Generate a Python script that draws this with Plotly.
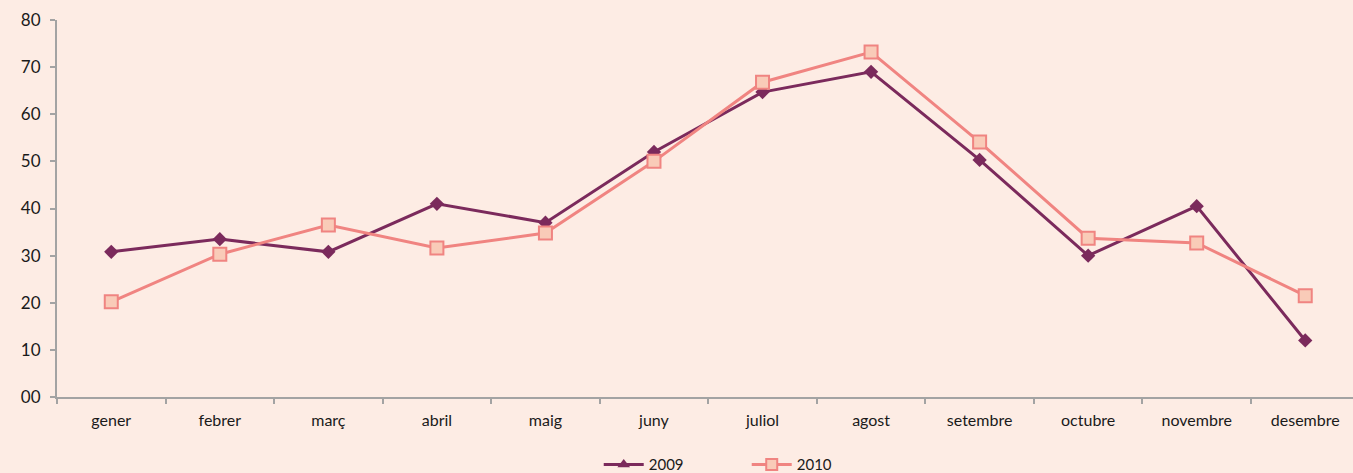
import plotly.graph_objects as go

months = ["gener", "febrer", "març", "abril", "maig", "juny", "juliol",
          "agost", "setembre", "octubre", "novembre", "desembre"]
values_2009 = [30.8, 33.5, 30.8, 41.0, 37.0, 52.0, 64.7, 69.0, 50.3, 30.0, 40.5, 12.0]
values_2010 = [20.2, 30.3, 36.5, 31.6, 34.8, 50.0, 66.8, 73.2, 54.1, 33.7, 32.7, 21.5]
y_ticks = [0, 10, 20, 30, 40, 50, 60, 70, 80]
y_tick_labels = ["00", "10", "20", "30", "40", "50", "60", "70", "80"]

C2009 = "#7B2A5C"
C2010 = "#F08481"
FILL2010 = "#F9CBB8"
BG = "#FDECE4"
FONT = "Lato"

fig = go.Figure()

fig.add_trace(go.Scatter(
    x=months, y=values_2009, mode="lines+markers", name="2009",
    line=dict(color=C2009, width=3),
    marker=dict(symbol="diamond", size=11, color=C2009),
    showlegend=False,
))
fig.add_trace(go.Scatter(
    x=months, y=values_2010, mode="lines+markers", name="2010",
    line=dict(color=C2010, width=3),
    marker=dict(symbol="square", size=13, color=FILL2010,
                line=dict(color=C2010, width=2)),
    showlegend=False,
))

# legend keys
fig.add_trace(go.Scatter(
    x=[None], y=[None], mode="lines+markers", name="2009",
    line=dict(color=C2009, width=3),
    marker=dict(symbol="triangle-up", size=11, color=C2009),
))
fig.add_trace(go.Scatter(
    x=[None], y=[None], mode="lines+markers", name="2010",
    line=dict(color=C2010, width=3),
    marker=dict(symbol="square", size=11, color=FILL2010,
                line=dict(color=C2010, width=2)),
))

fig.update_layout(
    width=1353, height=473,
    margin=dict(l=57, r=0, t=20, b=76, autoexpand=False),
    paper_bgcolor=BG, plot_bgcolor=BG,
    font=dict(family=FONT, size=15, color="#1a1a1a"),
    showlegend=True,
    legend=dict(orientation="h", x=0.418, xanchor="left", y=-0.18,
                yanchor="middle", bgcolor="rgba(0,0,0,0)",
                font=dict(size=15), entrywidth=93, entrywidthmode="pixels",
                itemwidth=40),
    xaxis=dict(
        categoryorder="array", categoryarray=months,
        range=[-0.5, 11.44],
        showline=True, linecolor="#A3A3A3", linewidth=2,
        ticks="outside", tickson="boundaries", ticklen=5, tickwidth=2,
        tickcolor="#A3A3A3", showgrid=False, zeroline=False,
        tickfont=dict(size=16), ticklabelstandoff=8,
    ),
    yaxis=dict(
        range=[0, 80], tickvals=y_ticks, ticktext=y_tick_labels,
        showline=True, linecolor="#A3A3A3", linewidth=2,
        ticks="outside", ticklen=5, tickwidth=2, tickcolor="#A3A3A3",
        showgrid=False, zeroline=False, tickfont=dict(size=17),
        ticklabelstandoff=6,
    ),
)

fig.write_html("out.html")
